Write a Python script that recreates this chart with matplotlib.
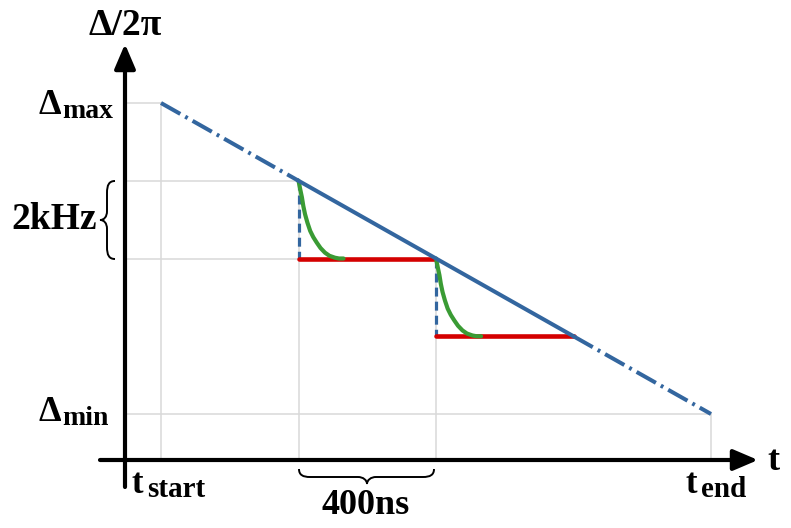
import numpy as np
import matplotlib
matplotlib.use("Agg")
import matplotlib.pyplot as plt
from matplotlib.path import Path
from matplotlib.patches import PathPatch

# data (t in ns, detuning in kHz)
t_start, t_end = 0, 1600
delta_max, delta_min = 8, 0
grid_t = [0, 400, 800, 1600]
grid_delta = [8, 6, 4, 0]
sweep_t = [0, 400, 1200, 1600]
sweep_delta = [8, 6, 2, 0]
hold_t = [400, 800]
hold_level = [4, 2]
hold_len = 400
# green relaxation curve, offsets
relax_dt = [0, 5, 10, 14, 19, 26, 34, 43, 53, 64, 77, 90, 106, 118, 131]
relax_dd = [0, -0.22, -0.43, -0.65, -0.86, -1.08, -1.29, -1.45, -1.59,
            -1.73, -1.85, -1.93, -1.98, -2.0, -2.0]

# image pixel -> data mapping
sx, sy = 0.34375, 38.875
ox, oy = 161, 414
W, H = 791, 528


def px(x, y):
    return ((x - ox) / sx, (oy - y) / sy)


blue = "#33669f"
red = "#d40000"
green = "#3a9b34"
gridc = "#d9d9d9"
font = dict(family=["Liberation Serif", "DejaVu Serif"], weight="bold", color="black")

fig = plt.figure(figsize=(W / 100, H / 100), dpi=100)
ax = fig.add_axes([0, 0, 1, 1])
ax.set_xlim(px(0, 0)[0], px(W, 0)[0])
ax.set_ylim(px(0, H)[1], px(0, 0)[1])
ax.axis("off")

x_ax, y_ax = px(125, 460)

# grid guides
for t, d in zip(grid_t, [8, 6, 4, 0]):
    ax.plot([t, t], [y_ax, d], color=gridc, lw=1.1, zorder=1)
for d, t in zip(grid_delta, [0, 400, 400, 1600]):
    ax.plot([x_ax, t], [d, d], color=gridc, lw=1.1, zorder=1)

# sweep line
dashdot = (0, (5.5, 1.4, 0.7, 1.4))
ax.plot(sweep_t[:2], sweep_delta[:2], color=blue, lw=2.9, ls=dashdot, zorder=4)
ax.plot(sweep_t[1:3], sweep_delta[1:3], color=blue, lw=2.9, zorder=4)
ax.plot(sweep_t[2:], sweep_delta[2:], color=blue, lw=2.9, ls=dashdot, zorder=4)

# steps
for t, lev in zip(hold_t, hold_level):
    ax.plot([t, t], [lev + 2, lev], color=blue, lw=2.3, ls=(0, (2.8, 1.6)), zorder=2)
    ax.plot([t, t + hold_len], [lev, lev], color=red, lw=3.3,
            solid_capstyle="round", zorder=3)
    ax.plot(t + np.array(relax_dt), lev + 2 + np.array(relax_dd),
            color=green, lw=3.0, solid_capstyle="round",
            solid_joinstyle="round", zorder=3)

# axes arrows
arrow = dict(arrowstyle="-|>,head_length=0.75,head_width=0.32", lw=3,
             color="black", shrinkA=0, shrinkB=0, mutation_scale=20)
ax.annotate("", xy=px(758, 460), xytext=px(100, 460), arrowprops=arrow, zorder=5)
ax.annotate("", xy=px(125, 44), xytext=px(125, 487), arrowprops=arrow, zorder=5)


def brace(pts, codes):
    verts = [px(x, y) for x, y in pts]
    ax.add_patch(PathPatch(Path(verts, codes), fill=False, lw=1.4,
                           color="black", zorder=5))


C4, L = Path.CURVE4, Path.LINETO
brace([(115, 181), (109, 181), (107, 185), (107, 193), (107, 211),
       (107, 217), (104, 220), (100, 220),
       (104, 220), (107, 223), (107, 229), (107, 247),
       (107, 255), (109, 259), (115, 259)],
      [Path.MOVETO, C4, C4, C4, L, C4, C4, C4, C4, C4, C4, L, C4, C4, C4])
brace([(299, 469), (299, 475), (303, 477), (310, 477), (358, 477),
       (363, 477), (367, 480), (367, 484),
       (367, 480), (371, 477), (376, 477), (423, 477),
       (430, 477), (434, 475), (434, 469)],
      [Path.MOVETO, C4, C4, C4, L, C4, C4, C4, C4, C4, C4, L, C4, C4, C4])

# labels
ax.text(*px(125, 35), "Δ/2π", ha="center", va="baseline", fontsize=27, **font)
ax.text(*px(61, 114), "Δ", ha="right", va="baseline", fontsize=26, **font)
ax.text(*px(62, 118), "max", ha="left", va="baseline", fontsize=20, **font)
ax.text(*px(61, 421), "Δ", ha="right", va="baseline", fontsize=26, **font)
ax.text(*px(62, 425), "min", ha="left", va="baseline", fontsize=20, **font)
ax.text(*px(97, 229), "2kHz", ha="right", va="baseline", fontsize=27, **font)
ax.text(*px(132, 493), "t", ha="left", va="baseline", fontsize=25, **font)
ax.text(*px(147, 497), "start", ha="left", va="baseline", fontsize=21, **font)
ax.text(*px(686, 493), "t", ha="left", va="baseline", fontsize=25, **font)
ax.text(*px(701, 497), "end", ha="left", va="baseline", fontsize=21, **font)
ax.text(*px(767, 470), "t", ha="left", va="baseline", fontsize=26, **font)
ax.text(*px(366, 514), "400ns", ha="center", va="baseline", fontsize=26, **font)

fig.savefig("out.png", dpi=100)
